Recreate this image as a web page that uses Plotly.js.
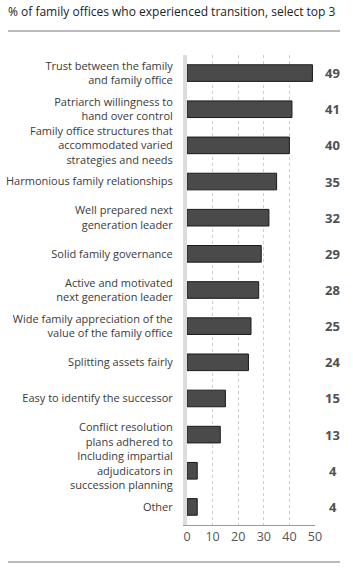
<!DOCTYPE html>
<html>
<head>
<meta charset="utf-8">
<script src="https://cdn.plot.ly/plotly-3.0.1.min.js"></script>
<style>html,body{margin:0;padding:0;background:#fff;}#chart{width:353px;height:570px;}</style>
</head>
<body>
<div id="chart"></div>
<script>
const categories = [
  "Trust between the family<br>and family office",
  "Patriarch willingness to<br>hand over control",
  "Family office structures that<br>accommodated varied<br>strategies and needs",
  "Harmonious family relationships",
  "Well prepared next<br>generation leader",
  "Solid family governance",
  "Active and motivated<br>next generation leader",
  "Wide family appreciation of the<br>value of the family office",
  "Splitting assets fairly",
  "Easy to identify the successor",
  "Conflict resolution<br>plans adhered to",
  "Including impartial<br>adjudicators in<br>succession planning",
  "Other"
];
const values = [49, 41, 40, 35, 32, 29, 28, 25, 24, 15, 13, 4, 4];
const tickVals = [0, 10, 20, 30, 40, 50];
const titleText = "% of family offices who experienced transition, select top 3";

const FONT = "Open Sans, Liberation Sans, sans-serif";

const trace = {
  type: 'bar',
  orientation: 'h',
  x: values,
  y: categories,
  marker: {color: '#4a4a4a', line: {color: '#1a1a1a', width: 1}},
  width: 0.46,
  hoverinfo: 'none'
};

const annotations = categories.map((c, i) => ({
  xref: 'paper', yref: 'y',
  x: 1.14, y: c,
  text: '<b>' + values[i] + '</b>',
  showarrow: false,
  xanchor: 'center', yanchor: 'middle',
  font: {family: FONT, size: 13, color: '#505050'}
}));

const layout = {
  width: 353, height: 570,
  margin: {l: 187, r: 38, t: 55, b: 45},
  paper_bgcolor: '#fff', plot_bgcolor: '#fff',
  showlegend: false,
  title: {
    text: titleText,
    x: 8/353, xanchor: 'left', xref: 'container',
    y: 1 - 12/570, yanchor: 'middle', yref: 'container',
    font: {family: FONT, size: 12, color: '#222'}
  },
  xaxis: {
    range: [0, 50],
    tickvals: tickVals,
    ticktext: tickVals.map(String),
    showgrid: true, gridcolor: '#cfcfcf', griddash: 'dot', gridwidth: 1,
    zeroline: false,
    showline: true, linecolor: '#999', linewidth: 1,
    ticks: '',
    tickfont: {family: FONT, size: 12.5, color: '#555'},
    fixedrange: true
  },
  yaxis: {
    autorange: 'reversed',
    showgrid: false, zeroline: false,
    showline: true, linecolor: '#dcdcdc', linewidth: 4,
    ticks: '',
    ticklabelstandoff: 8,
    tickfont: {family: FONT, size: 11, color: '#3a3a3a'},
    fixedrange: true
  },
  bargap: 0.5,
  annotations: annotations,
  shapes: [
    {type: 'line', xref: 'paper', yref: 'paper', x0: (8-187)/128, x1: (340-187)/128, y0: (525-31)/470, y1: (525-31)/470, line: {color: '#777', width: 1}},
    {type: 'line', xref: 'paper', yref: 'paper', x0: (8-187)/128, x1: (340-187)/128, y0: (525-562)/470, y1: (525-562)/470, line: {color: '#777', width: 1}}
  ]
};

Plotly.newPlot('chart', [trace], layout, {displayModeBar: false, staticPlot: true});
</script>
</body>
</html>
